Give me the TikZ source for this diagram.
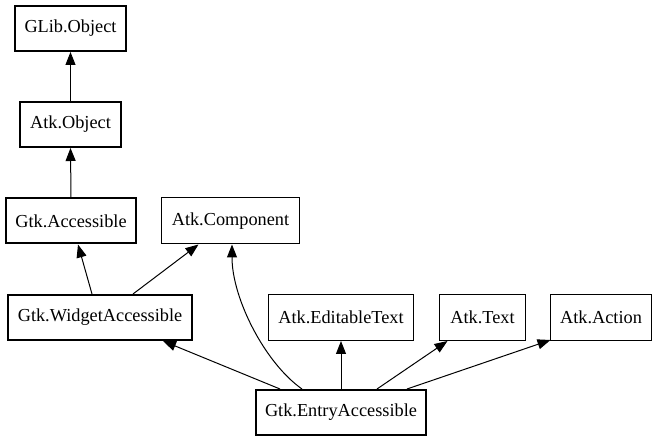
\documentclass[tikz,border=0pt]{standalone}
\usepackage{fontspec}
\setmainfont{Liberation Serif}
\usetikzlibrary{arrows.meta,calc}
\begin{document}
\begin{tikzpicture}[x=1pt,y=-1pt,
  box/.style={draw=black,rectangle,minimum height=45pt,inner sep=0pt,font=\fontsize{18.3}{21}\selectfont},
  thickbox/.style={box,line width=2pt},
  thinbox/.style={box,line width=1pt},
  arr/.style={line width=1pt,-{Triangle[length=13pt,width=10pt]}}]
\useasboundingbox (0,0) rectangle (657,443);
\node[thickbox,minimum width=111pt] (glib) at (70.5,28.5) {GLib.Object};
\node[thickbox,minimum width=101pt] (atko) at (70.5,124.5) {Atk.Object};
\node[thickbox,minimum width=130pt] (acc) at (71,221) {Gtk.Accessible};
\node[thinbox,minimum width=138pt,minimum height=46pt] (comp) at (230.5,221) {Atk.Component};
\node[thickbox,minimum width=184pt] (wa) at (100,317.5) {Gtk.WidgetAccessible};
\node[thinbox,minimum width=145pt,minimum height=46pt] (edit) at (341,317.5) {Atk.EditableText};
\node[thinbox,minimum width=86pt,minimum height=46pt] (text) at (482.5,317.5) {Atk.Text};
\node[thinbox,minimum width=101pt,minimum height=46pt] (action) at (601,317.5) {Atk.Action};
\node[thickbox,minimum width=170pt] (ea) at (341,412.5) {Gtk.EntryAccessible};
\draw[arr] (atko.north) -- (glib.south);
\draw[arr] (acc.north) -- (atko.south);
\draw[arr] ($(wa.north)+(-8,0)$) -- ($(acc.south)+(7,0)$);
\draw[arr] ($(wa.north)+(33,0)$) -- ($(comp.south)+(-32,0)$);
\draw[arr] ($(ea.north)+(-61,0)$) -- ($(wa.south)+(63,0)$);
\draw[arr] ($(ea.north)+(-39,0)$) .. controls ($(ea.north)+(-76,-26)$) and ($(comp.south)+(1.5,54)$) .. ($(comp.south)+(1.5,0)$);
\draw[arr] (ea.north) -- (edit.south);
\draw[arr] ($(ea.north)+(36,0)$) -- ($(text.south)+(-35,0)$);
\draw[arr] ($(ea.north)+(66,0)$) -- ($(action.south west)+(0.5,-1)$);
\end{tikzpicture}
\end{document}
